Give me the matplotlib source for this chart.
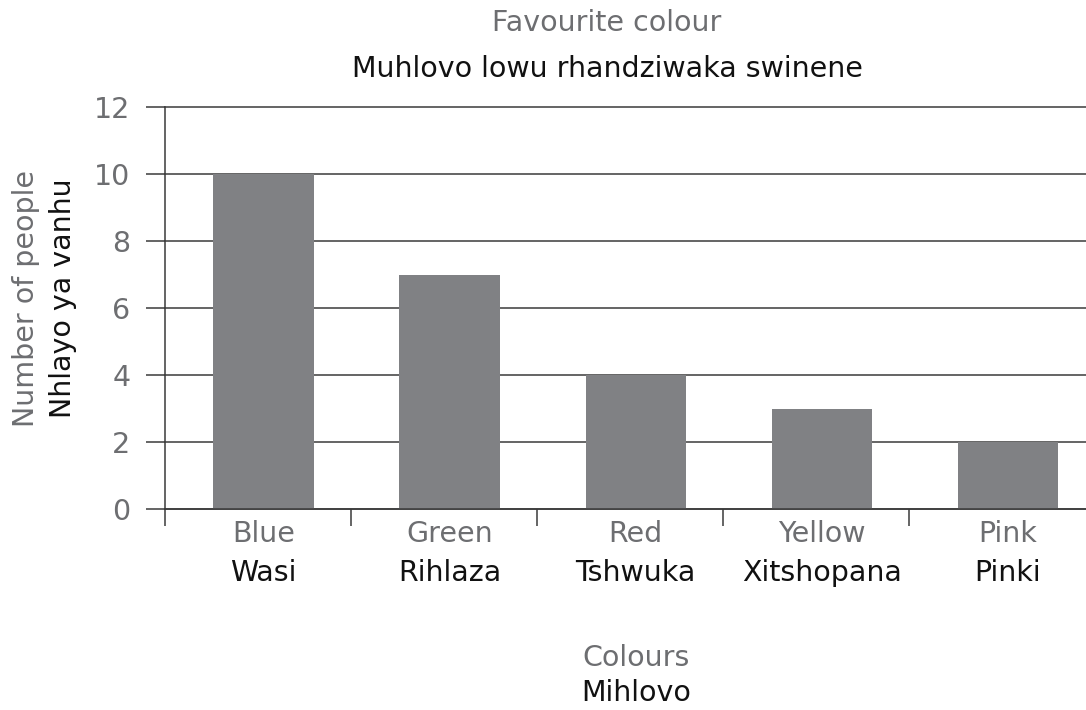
import matplotlib.pyplot as plt

# data
colours_en = ['Blue', 'Green', 'Red', 'Yellow', 'Pink']
colours_ts = ['Wasi', 'Rihlaza', 'Tshwuka', 'Xitshopana', 'Pinki']
people = [10, 7, 4, 3, 2]
y_ticks = [0, 2, 4, 6, 8, 10, 12]

grey_text = '#6d6e71'
black_text = '#111111'
bar_colour = '#808184'
line_colour = '#3a3a3a'
fs = 20.5

plt.rcParams['font.family'] = ['DejaVu Sans']

fig = plt.figure(figsize=(10.86, 7.10), dpi=100)
ax = fig.add_axes([0.152, 0.283, 0.848, 0.566])

x = list(range(len(people)))
ax.bar([i + 0.03 for i in x], people, width=0.54, color=bar_colour, zorder=2)

ax.set_xlim(-0.5, 4.45)
ax.set_ylim(0, 12)

# y axis: ticks extend out to the left, gridlines across
ax.set_yticks(y_ticks)
ax.set_yticklabels([str(v) for v in y_ticks], color=grey_text, fontsize=fs)
ax.tick_params(axis='y', direction='out', length=14, width=1.1, color=line_colour, pad=11)
ax.yaxis.grid(True, color=line_colour, linewidth=1.1)
ax.set_axisbelow(True)
for gl in ax.get_ygridlines():
    gl.set_clip_on(False)

# x axis: separators between categories, labels centred on the bars
ax.set_xticks([i + 0.03 for i in x])
ax.set_xticklabels(colours_en, color=grey_text, fontsize=fs)
ax.tick_params(axis='x', which='major', length=0, pad=8)
ax.set_xticks([i - 0.5 for i in x], minor=True)
ax.tick_params(axis='x', which='minor', direction='out', length=12, width=1.1, color=line_colour)

for i, name in zip(x, colours_ts):
    ax.annotate(name, xy=(i + 0.03, 0), xycoords=('data', 'axes fraction'),
                xytext=(0, -36), textcoords='offset points',
                ha='center', va='top', fontsize=fs, color=black_text)

for side in ['top', 'right']:
    ax.spines[side].set_visible(False)
ax.spines['left'].set_color(line_colour)
ax.spines['left'].set_linewidth(1.1)
ax.spines['bottom'].set_color(line_colour)
ax.spines['bottom'].set_linewidth(1.1)

# titles
fig.text(0.559, 0.967, 'Favourite colour', ha='center', va='center', fontsize=fs, color=grey_text)
fig.text(0.559, 0.903, 'Muhlovo lowu rhandziwaka swinene', ha='center', va='center',
         fontsize=fs, color=black_text)

fig.text(0.586, 0.073, 'Colours', ha='center', va='center', fontsize=fs, color=grey_text)
fig.text(0.586, 0.024, 'Mihlovo', ha='center', va='center', fontsize=fs, color=black_text)

fig.text(0.024, 0.58, 'Number of people', ha='center', va='center', rotation=90,
         fontsize=fs, color=grey_text)
fig.text(0.058, 0.58, 'Nhlayo ya vanhu', ha='center', va='center', rotation=90,
         fontsize=fs, color=black_text)

fig.savefig('out.png', dpi=100)
